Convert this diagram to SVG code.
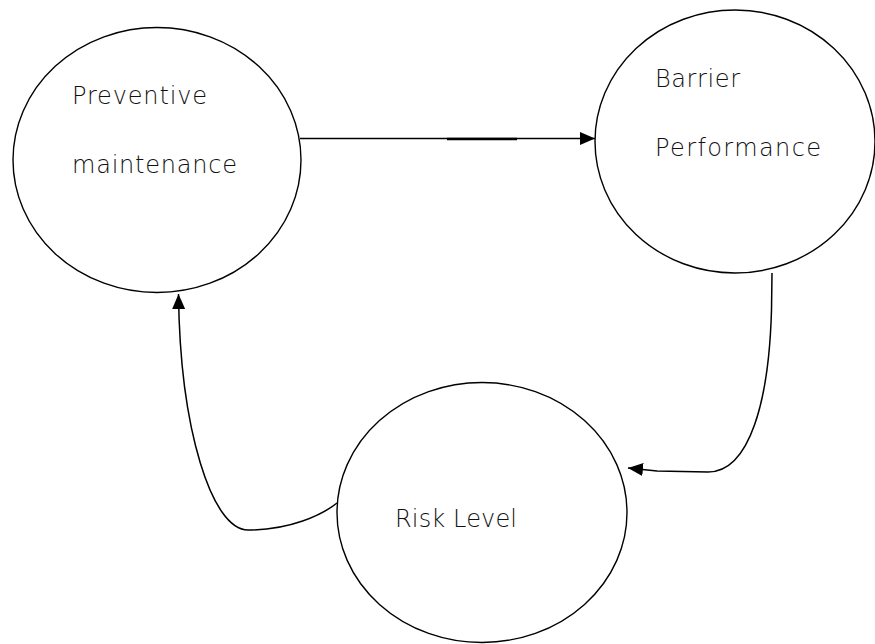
<svg xmlns="http://www.w3.org/2000/svg" width="875" height="644" viewBox="0 0 875 644">
  <style>
    .node { fill: #ffffff; stroke: #000000; stroke-width: 1.4; }
    .label { font-family: "DejaVu Sans", "Liberation Sans", sans-serif; font-size: 24px; font-weight: 200; fill: #111111; }
    .edge { fill: none; stroke: #000000; stroke-width: 1.5; }
  </style>
  <defs>
    <marker id="arrow" markerUnits="userSpaceOnUse" markerWidth="16" markerHeight="14" refX="15" refY="6.5" orient="auto">
      <path d="M0,0 L15,6.5 L0,13 Z" fill="#000000"/>
    </marker>
  </defs>
  <rect width="875" height="644" fill="#ffffff"/>

  <g id="preventive-maintenance">
    <ellipse class="node" cx="157" cy="160" rx="144" ry="132.5"/>
    <text class="label" x="72" y="104" textLength="135" lengthAdjust="spacing">Preventive</text>
    <text class="label" x="72" y="173" textLength="165" lengthAdjust="spacing">maintenance</text>
  </g>

  <g id="barrier-performance">
    <ellipse class="node" cx="735" cy="141.5" rx="140" ry="131.5"/>
    <text class="label" x="655" y="87" textLength="85" lengthAdjust="spacing">Barrier</text>
    <text class="label" x="655" y="156" textLength="166" lengthAdjust="spacing">Performance</text>
  </g>

  <g id="risk-level">
    <ellipse class="node" cx="482" cy="512.5" rx="145" ry="130"/>
    <text class="label" x="395" y="527" textLength="122" lengthAdjust="spacing">Risk Level</text>
  </g>

  <g id="connectors">
    <!-- maintenance drives barrier performance -->
    <path class="edge" d="M300,138.5 L595,138.5" marker-end="url(#arrow)"/>
    <path d="M447,139 L517,139" stroke="#000000" stroke-width="2.5" fill="none"/>
    <!-- barrier performance feeds risk level -->
    <path class="edge" d="M772,273 L771.5,310 C769,400 750,472 708,472 L657,471 L628,468" marker-end="url(#arrow)"/>
    <!-- risk level feeds back to maintenance -->
    <path class="edge" d="M337,503 C322,515 290,530 248,530 C212,530 180,430 178.5,294" marker-end="url(#arrow)"/>
  </g>
</svg>
